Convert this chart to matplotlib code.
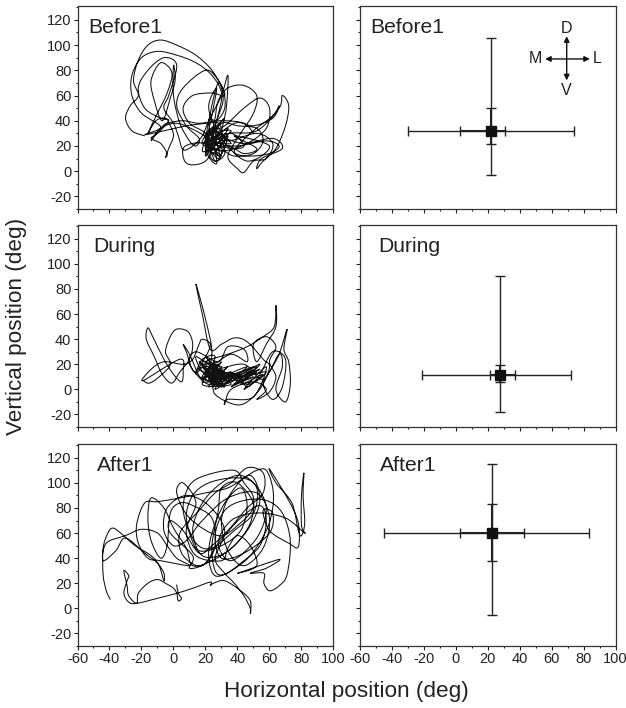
import matplotlib
matplotlib.use("Agg")
import matplotlib.pyplot as plt
from matplotlib.path import Path
from matplotlib.patches import PathPatch
from matplotlib.ticker import MultipleLocator

plt.rcParams['font.family'] = ['Liberation Sans', 'DejaVu Sans']
plt.rcParams['axes.unicode_minus'] = False

W, H = 626, 708
text_color = '#222222'

# eye traces (horizontal, vertical deg)
before_trace = [
    (-18, 28), (-26, 32), (-30, 42), (-27, 52), (-22, 60), (-25, 72), (-22, 88), (-16, 100), (-8, 104), (2, 100),
    (14, 92), (24, 80), (31, 64), (32, 50), (27, 40), (20, 38), (8, 36), (-6, 32), (-18, 29), (-8, 35),
    (-20, 46), (-26, 60), (-26, 76), (-20, 90), (-10, 95), (2, 92), (14, 86), (24, 76), (30, 62), (28, 45),
    (24, 28), (22, 15), (26, 8), (32, 14), (30, 30), (33, 50), (34, 76), (30, 60), (22, 40), (18, 28),
    (12, 20), (6, 17), (3, 28), (0, 38), (-6, 50), (-3, 60), (2, 84), (-6, 90), (-16, 80), (-22, 66),
    (-18, 50), (-8, 42), (-3, 40), (-10, 30), (-14, 26), (-8, 22), (-4, 14), (-5, 11), (-3, 18), (0, 28),
    (-2, 36), (-5, 42), (-11, 40), (-16, 30), (-10, 46), (-4, 62), (-1, 78), (-8, 86), (-14, 72), (-12, 56),
    (-7, 40), (-2, 58), (1, 72), (0, 84), (0, 60), (4, 38), (10, 24), (14, 20), (16, 26), (8, 36),
    (2, 52), (6, 66), (20, 80), (28, 72), (32, 60), (24, 62), (12, 60), (6, 50), (10, 38), (20, 30),
    (24, 18), (20, 8), (12, 5), (7, 8), (6, 18), (12, 22), (22, 22), (36, 18), (44, 20), (36, 30),
    (24, 24), (30, 38), (40, 36), (52, 34), (56, 24), (50, 14), (38, 12), (30, 18), (24, 26), (26, 42),
    (28, 56), (34, 66), (44, 68), (52, 60), (50, 46), (42, 30), (34, 12), (40, 2), (44, -1), (50, 8),
    (58, 10), (62, 22), (52, 30), (34, 24), (22, 30), (32, 36), (44, 50), (54, 58), (60, 50), (58, 34),
    (46, 22), (30, 16), (20, 24), (34, 30), (52, 32), (66, 50), (68, 60), (72, 52), (70, 36), (64, 18),
    (56, 8), (52, 2), (55, 10), (68, 18), (62, 26), (44, 22), (28, 26), (20, 12), (24, 34), (30, 20),
    (22, 18), (30, 34), (22, 40), (28, 12), (34, 28), (24, 14), (20, 30), (32, 24), (26, 36), (18, 22),
    (30, 16), (26, 8), (22, 28), (36, 32), (24, 20), (28, 30), (20, 16), (34, 20), (44, 14), (52, 18),
    (38, 28), (60, 20), (46, 8), (30, 26), (22, 50), (27, 66), (24, 44), (21, 22), (29, 10), (26, 34),
    (31, 56), (28, 70), (23, 46), (20, 18), (27, 6), (25, 30), (32, 42), (22, 26), (36, 22), (24, 32),
    (18, 16), (26, 20), (34, 34), (20, 20), (30, 12), (24, 22), (38, 38), (50, 36), (62, 42), (66, 52),
    (62, 44), (48, 30), (38, 16), (46, 12), (60, 14), (66, 20), (58, 24), (40, 20), (28, 22), (14, 32),
    (2, 38), (-8, 34), (-14, 24), (-8, 34), (-4, 38), (6, 40), (16, 38), (30, 40), (44, 38), (50, 30),
]
during_trace = [
    (-19, 7), (-15, 5), (-8, 11), (-2, 20), (-5, 30), (-2, 42), (2, 48), (9, 46), (12, 36), (10, 24),
    (4, 14), (-1, 5), (-7, 12), (-12, 26), (-17, 40), (-16, 49), (-13, 42), (-6, 24), (0, 12), (5, 6),
    (6, 14), (4, 24), (-19, 7), (-14, 16), (-6, 22), (6, 20), (12, 24), (16, 36), (18, 40), (23, 36),
    (20, 26), (13, 14), (8, 30), (6, 36), (10, 28), (18, 8), (24, 28), (20, 56), (14, 84), (18, 60),
    (23, 32), (30, 36), (38, 41), (46, 38), (56, 24), (60, 18), (55, 2), (46, -10), (38, -12), (26, -4),
    (24, 8), (18, 14), (14, 26), (24, 20), (36, 28), (46, 22), (44, 32), (34, 34), (28, 22), (14, 30),
    (10, 20), (22, 4), (30, 16), (18, 22), (26, 6), (16, 10), (32, 2), (22, 18), (34, 6), (20, 26),
    (30, 10), (24, 2), (36, 14), (22, 8), (30, 22), (18, 4), (36, 4), (24, 14), (40, 10), (28, 2),
    (46, 12), (30, 6), (50, 18), (36, 2), (52, 14), (38, 8), (54, 20), (42, 4), (56, 12), (44, 0),
    (58, 18), (50, -6), (34, -8), (32, -12), (36, 0), (50, 6), (58, 0), (52, -8), (60, -2), (64, 10),
    (60, 22), (64, 34), (58, 42), (50, 36), (52, 22), (58, 36), (64, 50), (64, 67), (63, 50), (56, 42),
    (46, 34), (34, 28), (20, 22), (26, 16), (44, 20), (56, 8), (66, 28), (68, 18), (64, 0), (70, -10),
    (73, 4), (72, 22), (69, 32), (71, 48), (66, 28), (60, 14), (56, 4), (62, -8), (68, 2), (70, 24),
    (62, 30), (54, 12), (46, 2), (40, 12), (28, 12), (22, 6), (30, 14), (24, 10), (18, 18), (28, 4),
    (20, 12), (32, 8), (16, 16), (30, 18), (22, 2), (34, 12), (18, 10), (28, 20), (24, 4), (36, 8),
    (20, 16), (32, 14), (26, 0), (38, 12), (22, 12), (30, 2), (16, 22), (26, 12), (34, 18), (24, 6),
    (42, 14), (28, 8), (46, 18), (32, 4), (48, 14), (36, 10), (52, 18), (40, 6), (50, 10), (38, 4),
    (54, 16), (44, 10), (58, 14), (46, 4), (28, 16), (20, 20), (14, 12), (18, 24), (26, 26), (20, 8),
    (28, 10), (24, 18), (30, 4), (22, 14), (26, 22), (18, 6), (32, 10), (24, 12), (36, 6), (28, 14),
]
after_trace = [
    (-39.5, 7), (-42, 14), (-44, 27), (-44, 48), (-41, 60), (-38, 64), (-33, 60), (-24, 50), (-14, 42), (-9, 34),
    (-6, 22), (-6, 28), (-10, 36), (-18, 44), (-30, 56), (-36, 46), (-44, 38), (-42, 52), (-30, 58), (-20, 63),
    (-10, 60), (-4, 50), (2, 40), (10, 34), (-8, 38), (-16, 40), (-22, 52), (-23, 67), (-18, 84), (-10, 85),
    (4, 88), (20, 92), (34, 96), (44, 104), (52, 110), (58, 110), (62, 96), (62, 80), (58, 62), (48, 42),
    (36, 30), (26, 26), (22, 40), (24, 60), (32, 84), (42, 96), (46, 82), (42, 62), (30, 50), (16, 46),
    (10, 60), (6, 80), (10, 98), (20, 106), (38, 110), (44, 100), (50, 88), (48, 68), (38, 50), (24, 38),
    (12, 34), (8, 48), (0, 64), (-6, 80), (-14, 88), (-16, 72), (-14, 54), (-8, 40), (-4, 50), (-2, 76),
    (4, 84), (12, 82), (24, 72), (26, 50), (20, 36), (10, 32), (12, 42), (-2, 60), (-2, 70), (6, 62),
    (16, 44), (24, 50), (34, 62), (46, 80), (56, 92), (56, 108), (46, 112), (36, 100), (26, 92), (16, 78),
    (4, 60), (6, 42), (18, 34), (28, 52), (42, 72), (54, 82), (58, 70), (54, 50), (42, 36), (32, 27),
    (26, 30), (24, 50), (28, 78), (30, 96), (40, 100), (50, 82), (40, 66), (28, 58), (10, 72), (2, 92),
    (6, 100), (14, 84), (8, 62), (14, 42), (30, 38), (34, 48), (40, 58), (48, 50), (52, 34), (40, 28),
    (66, 39), (58, 32), (48, 28), (56.5, 28), (56.5, 20), (60, 14), (66, 18), (71, 27), (73, 54), (68, 76),
    (58, 86), (44, 86), (32, 78), (26, 58), (30, 40), (44, 44), (60, 60), (62, 76), (56, 78), (60, 62),
    (72, 52), (78, 49), (78, 68), (72, 86), (60, 111), (64, 100), (74, 84), (78, 62), (80, 58), (82, 68),
    (81, 90), (81.5, 108), (80, 90), (80, 66), (82, 60), (70, 72), (52, 76), (36, 70), (28, 52), (36, 38),
    (52, 56), (58, 80), (50, 100), (38, 104), (22, 100), (12, 90), (8, 72), (14, 52), (24, 48), (38, 62),
    (50, 76), (52, 96), (42, 106), (30, 100), (18, 84), (12, 62), (18, 42), (32, 44), (46, 62), (54, 86),
    (48, 106), (36, 92), (30, 70), (34, 46), (44, 34), (56, 48), (60, 72), (52, 92), (34, 88), (18, 70),
    (8, 54), (0, 50), (-6, 62), (-4, 80), (8, 90), (22, 82), (32, 62), (26, 40), (32, 28), (38, 20),
    (44, 10), (48, 0), (48, -4), (48, 6), (42, 14), (32, 22), (25, 20), (23, 18), (23, 21), (12, 16),
    (2, 12), (-10, 8), (-23, 4), (-28, 5), (-31, 12), (-29, 22), (-28, 26), (-31, 30), (-29, 18), (-28, 10),
    (-23, 4), (-22, 12), (-16, 20), (-10, 23), (-5, 20), (0, 16), (2, 12), (3, 6), (5, 8), (3, 12), (2, 19),
]

# mean, SD bars
before_mean = (22, 32)
before_x_inner = (2.5, 31)
before_x_outer = (-30, 74)
before_y_inner = (21.5, 50)
before_y_outer = (-3, 105.5)

during_mean = (28, 11.5)
during_x_inner = (21.5, 37)
during_x_outer = (-21, 72)
during_y_inner = (5.5, 19.5)
during_y_outer = (-18, 90.5)

after_mean = (23, 60)
after_x_inner = (3, 42.5)
after_x_outer = (-44.5, 83.5)
after_y_inner = (37.5, 83.5)
after_y_outer = (-5.5, 115)

row_titles = ["Before1", "During", "After1"]
title_left_x = [-53, -50, -48]
title_right_x = [-53, -48, -47]
row_tops = [6, 225, 444]
row_bottoms = [209, 427, 646]
col_lefts = [77.5, 359.5]
col_width = 256


def add_panel(left, top, bottom):
    ax = fig.add_axes([left / W, 1 - bottom / H, col_width / W, (bottom - top) / H])
    ax.set_xlim(-60, 100)
    ax.set_ylim(-30, 131)
    ax.xaxis.set_major_locator(MultipleLocator(20))
    ax.xaxis.set_minor_locator(MultipleLocator(10))
    ax.yaxis.set_major_locator(MultipleLocator(20))
    ax.yaxis.set_minor_locator(MultipleLocator(10))
    ax.tick_params(which='major', length=3.0, width=0.8, color='#222222', labelsize=10.5,
                   labelcolor=text_color, pad=1.5)
    ax.tick_params(which='minor', length=1.2, width=0.8, color='#222222')
    for s in ax.spines.values():
        s.set_linewidth(0.9)
        s.set_color('#333333')
    return ax


def draw_trace(ax, pts):
    # Catmull-Rom style controls so the curve goes through every read point
    verts = [pts[0]]
    codes = [Path.MOVETO]
    for i in range(len(pts) - 1):
        p0 = pts[max(i - 1, 0)]
        p1 = pts[i]
        p2 = pts[i + 1]
        p3 = pts[min(i + 2, len(pts) - 1)]
        c1 = (p1[0] + (p2[0] - p0[0]) / 6, p1[1] + (p2[1] - p0[1]) / 6)
        c2 = (p2[0] - (p3[0] - p1[0]) / 6, p2[1] - (p3[1] - p1[1]) / 6)
        verts += [c1, c2, p2]
        codes += [Path.CURVE4, Path.CURVE4, Path.CURVE4]
    ax.add_patch(PathPatch(Path(verts, codes), fill=False, edgecolor='#111111', linewidth=0.75))


def draw_cross(ax, mean, x_outer, x_inner, y_outer, y_inner):
    mx, my = mean
    ax.errorbar([mx], [my], xerr=[[mx - x_outer[0]], [x_outer[1] - mx]],
                yerr=[[my - y_outer[0]], [y_outer[1] - my]],
                fmt='none', ecolor='#222222', elinewidth=1.0, capsize=3.6, capthick=1.0)
    ax.errorbar([mx], [my], xerr=[[mx - x_inner[0]], [x_inner[1] - mx]],
                yerr=[[my - y_inner[0]], [y_inner[1] - my]],
                fmt='s', color='#111111', ms=6.5, ecolor='#222222', elinewidth=1.5, capsize=3.6, capthick=1.0)


fig = plt.figure(figsize=(W / 100, H / 100), dpi=100)

traces = [before_trace, during_trace, after_trace]
crosses = [
    (before_mean, before_x_outer, before_x_inner, before_y_outer, before_y_inner),
    (during_mean, during_x_outer, during_x_inner, during_y_outer, during_y_inner),
    (after_mean, after_x_outer, after_x_inner, after_y_outer, after_y_inner),
]

for r in range(3):
    ax1 = add_panel(col_lefts[0], row_tops[r], row_bottoms[r])
    ax2 = add_panel(col_lefts[1], row_tops[r], row_bottoms[r])
    draw_trace(ax1, traces[r])
    draw_cross(ax2, *crosses[r])
    ax1.text(title_left_x[r], 114, row_titles[r], fontsize=15.2, color=text_color, va='center')
    ax2.text(title_right_x[r], 114, row_titles[r], fontsize=15.2, color=text_color, va='center')
    ax2.tick_params(which='both', labelleft=False)
    if r < 2:
        ax1.tick_params(which='both', labelbottom=False)
        ax2.tick_params(which='both', labelbottom=False)
    if r == 0:
        # compass in the first right hand panel
        arrow = dict(arrowstyle='<|-|>', color='#111111', lw=1.0, mutation_scale=8, shrinkA=0, shrinkB=0)
        ax2.annotate('', xy=(84, 89), xytext=(56, 89), arrowprops=arrow)
        ax2.annotate('', xy=(69.5, 107), xytext=(69.5, 72), arrowprops=arrow)
        ax2.text(69.5, 113, 'D', fontsize=11.5, color=text_color, ha='center', va='center')
        ax2.text(69.5, 64, 'V', fontsize=11.5, color=text_color, ha='center', va='center')
        ax2.text(50, 89, 'M', fontsize=11.5, color=text_color, ha='center', va='center')
        ax2.text(88.5, 89, 'L', fontsize=11.5, color=text_color, ha='center', va='center')

fig.text(346.5 / W, 1 - 692 / H, "Horizontal position (deg)", fontsize=16.2, color=text_color,
         ha='center', va='center')
fig.text(17 / W, 1 - 326 / H, "Vertical position (deg)", fontsize=16.2, color=text_color,
         ha='center', va='center', rotation=90)

fig.savefig("out.png", dpi=100)
